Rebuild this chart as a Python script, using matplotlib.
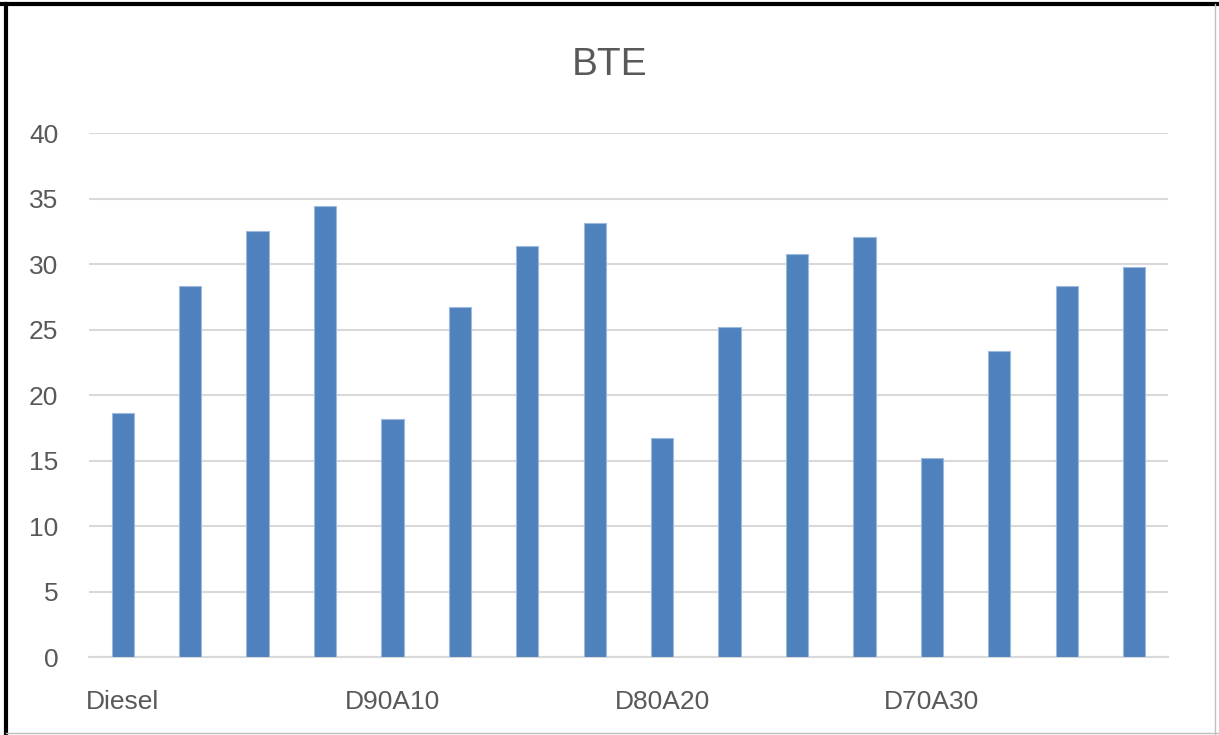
import matplotlib
matplotlib.use("Agg")
import matplotlib.pyplot as plt
from matplotlib.lines import Line2D

# BTE values
bte = [18.6, 28.3, 32.5, 34.4,
       18.2, 26.7, 31.4, 33.1,
       16.7, 25.2, 30.8, 32.1,
       15.2, 23.4, 28.3, 29.8]
blend_labels = ['Diesel', 'D90A10', 'D80A20', 'D70A30']
yticks = [0, 5, 10, 15, 20, 25, 30, 35, 40]

plt.rcParams['font.family'] = ['Liberation Sans Narrow', 'Liberation Sans', 'DejaVu Sans']
text_col = '#595959'

fig = plt.figure(figsize=(12.19, 7.35), dpi=100)
ax = fig.add_axes([0.073, 0.106, 0.885, 0.713])

x = list(range(len(bte)))
ax.bar(x, bte, width=0.33, color='#4F81BD', edgecolor='#9DB9DD', linewidth=0.8, zorder=3)

ax.set_xlim(-0.5, len(bte) - 0.5)
ax.set_ylim(0, 40)
ax.set_yticks(yticks)
ax.set_xticks(range(0, len(bte), 4))
ax.set_xticklabels(blend_labels)
ax.yaxis.grid(True, color='#D9D9D9', linewidth=1.5, zorder=0)
for s in ['top', 'right', 'left']:
	ax.spines[s].set_visible(False)
ax.spines['bottom'].set_color('#D9D9D9')
ax.spines['bottom'].set_linewidth(1.5)
ax.tick_params(axis='both', length=0, colors=text_col, labelsize=19)
ax.tick_params(axis='x', pad=24)
ax.tick_params(axis='y', pad=22)

fig.text(0.5, 0.912, 'BTE', ha='center', va='center', fontsize=28, color=text_col)

# frame round the picture
fig.add_artist(Line2D([0.005, 0.005], [0.0, 0.995], color='black', linewidth=3))
fig.add_artist(Line2D([0.0, 1.0], [0.995, 0.995], color='black', linewidth=3))
fig.add_artist(Line2D([0.997, 0.997], [0.0, 0.995], color='#BFBFBF', linewidth=1))
fig.add_artist(Line2D([0.005, 1.0], [0.003, 0.003], color='#BFBFBF', linewidth=1))

fig.savefig('out.png', dpi=100)
